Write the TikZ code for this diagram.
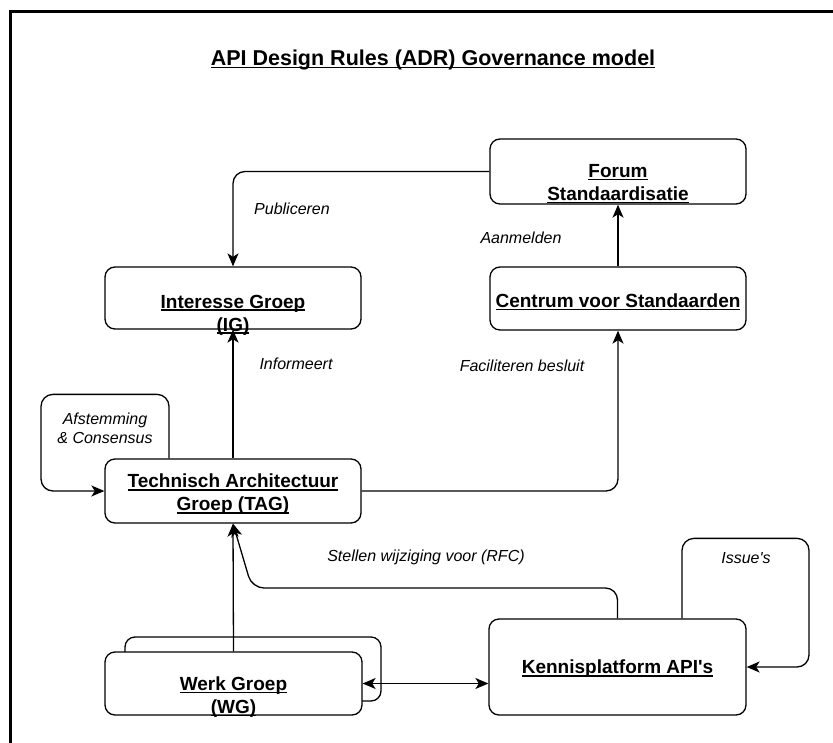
\documentclass[tikz,border=0pt]{standalone}
\usepackage{fontspec}
\setmainfont{Liberation Sans}
\usetikzlibrary{arrows.meta}
\usetikzlibrary{calc}

\newcommand{\ulline}[1]{\setbox0\hbox{#1}\rlap{\rule[-2.6pt]{\wd0}{1.3pt}}\box0}

\begin{document}
\begin{tikzpicture}[x=1pt,y=-1pt,
    >={Stealth[length=13pt,width=11pt,inset=3.5pt]},
    box/.style={draw,rounded corners=10pt,line width=1.3pt,fill=white},
    boxtext/.style={align=center,font=\fontsize{19}{23}\selectfont\bfseries,inner sep=0pt},
    lbl/.style={align=center,font=\fontsize{16}{19}\selectfont\itshape,inner sep=0pt},
    conn/.style={line width=1.3pt,rounded corners=12pt}]

    \useasboundingbox (0,0) rectangle (833,742);
    \clip (0,0) rectangle (833,742);
    \draw[line width=3pt] (10,11) rectangle (860,770);

    \node[font=\fontsize{21.5}{26}\selectfont\bfseries] (title) at (433,60) {\ulline{API Design Rules (ADR) Governance model}};

    \begin{scope}[every node/.append style={minimum width=256pt}]
        \node[box,minimum height=65pt] (fs) at (618,171.5) {};
        \node[box,minimum height=62pt] (ig) at (233,298) {};
        \node[box,minimum height=63pt] (cvs) at (618,298.5) {};
        \node[box,minimum height=64pt] (tag) at (233,491) {};
        \node[box,minimum height=64pt] (wg_back) at (253,669) {};
        \node[box,minimum height=63pt,minimum width=257pt] (wg) at (233.5,683.5) {};
        \node[box,minimum height=96pt,minimum width=257pt] (kp) at (617.5,667) {};
    \end{scope}

    \node[boxtext] (fs_t) at (618,184) {\ulline{Forum}\\\ulline{Standaardisatie}};
    \node[boxtext] (ig_t) at (233,315) {\ulline{Interesse Groep}\\\ulline{(IG)}};
    \node[boxtext] (cvs_t) at (618,302) {\ulline{Centrum voor Standaarden}};
    \node[boxtext] (tag_t) at (233,494.5) {\ulline{Technisch Architectuur}\\\ulline{Groep (TAG)}};
    \node[boxtext] (wg_t) at (233.5,697) {\ulline{Werk Groep}\\\ulline{(WG)}};
    \node[boxtext] (kp_t) at (617.5,669) {\ulline{Kennisplatform API\textquotesingle s}};

    \draw[conn,->] (fs.west) -| (ig.north);
    \draw[conn,->] (cvs.north) -- (fs.south);
    \draw[conn,->] (tag.north) -- (ig.south);
    \draw[conn,->] (tag.east) -| (cvs.south);
    \draw[conn,->] ([xshift=-64pt]tag.north) -- ++(0,-64) -| (41,491) -- (tag.west);
    \draw[conn,->] (wg.north) -- (tag.south);
    \draw[conn,->] (kp.north) |- (252,588) -- (tag.south);
    \draw[conn,->] ([xshift=64.5pt]kp.north) -- ++(0,-80) -| (809,667) -- (kp.east);
    \draw[conn,<->] (wg.east) -- (wg.east -| kp.west);

    \foreach \n/\x/\y/\t in {pub/292/209/Publiceren, aan/521/238/Aanmelden, inf/296/364/Informeert,
        fac/522/366/Faciliteren besluit, rfc/426/557/Stellen wijziging voor (RFC), iss/746/558/Issue\textquotesingle s,
        afs/105/428/{Afstemming\\\& Consensus}} {
        \node[lbl] (l_\n) at (\x,\y) {\t};
    }
\end{tikzpicture}
\end{document}
